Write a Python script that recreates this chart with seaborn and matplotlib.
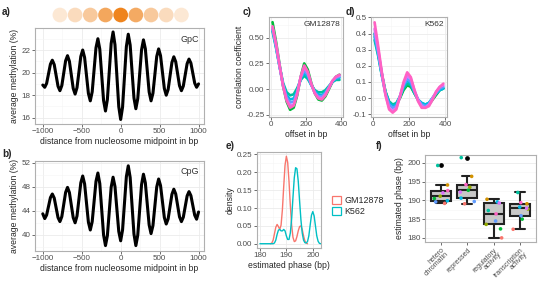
import numpy as np
import pandas as pd
import matplotlib
matplotlib.use("Agg")
import matplotlib.pyplot as plt
import seaborn as sns
from matplotlib.patches import Patch
from matplotlib.ticker import MultipleLocator, FormatStrFormatter
from matplotlib.colors import LinearSegmentedColormap

# ---------------- data ----------------
# a) GpC methylation profile around nucleosome midpoint (bp)
meth_positions = np.concatenate([[-1000], np.arange(-975, 975.1, 24.375), [1000]])
gpc_meth = [18.9,
    18.7, 19.05, 19.9, 20.75, 21.1, 20.71, 19.75, 18.79, 18.4, 18.85, 19.95, 21.05,
    21.5, 21.0, 19.8, 18.6, 18.1, 18.67, 20.05, 21.43, 22.0, 21.34, 19.75, 18.16,
    17.5, 18.3, 20.25, 22.2, 23.0, 22.07, 19.8, 17.53, 16.6, 17.62, 20.1, 22.58,
    23.6, 22.47, 19.73, 16.98, 15.85, 16.95, 19.63, 22.3, 23.4, 22.44, 20.1, 17.76,
    16.8, 17.69, 19.85, 22.01, 22.9, 22.11, 20.2, 18.29, 17.5, 18.17, 19.8, 21.43,
    22.1, 21.5, 20.05, 18.6, 18.0, 18.5, 19.7, 20.9, 21.4, 20.96, 19.9, 18.84,
    18.4, 18.81, 19.8, 20.79, 21.2, 20.84, 19.95, 19.07, 18.7,
    19.0]
# b) CpG methylation profile
cpg_meth = [43.5,
    42.7, 43.3, 44.75, 46.2, 46.8, 46.13, 44.5, 42.87, 42.2, 43.03, 45.05, 47.07,
    47.9, 47.04, 44.95, 42.86, 42.0, 43.14, 45.9, 48.66, 49.8, 48.49, 45.3, 42.11,
    40.8, 42.19, 45.55, 48.91, 50.3, 48.53, 44.25, 39.97, 38.2, 39.86, 43.9, 47.94,
    49.6, 48.05, 44.3, 40.55, 39.0, 40.82, 45.25, 49.68, 51.5, 49.56, 44.85, 40.14,
    38.2, 39.94, 44.15, 48.36, 50.1, 48.65, 45.15, 41.65, 40.2, 41.53, 44.75, 47.97,
    49.3, 48.21, 45.55, 42.89, 41.8, 42.65, 44.7, 46.75, 47.6, 46.81, 44.9, 42.99,
    42.2, 42.93, 44.7, 46.47, 47.2, 46.53, 44.9, 43.27, 42.6,
    43.8]
# nucleosome positions and relative occupancy (circles above panel a)
nuc_positions = [-780, -585, -390, -195, 0, 195, 390, 585, 780]
nuc_occupancy = [0.18, 0.28, 0.42, 0.68, 0.95, 0.66, 0.42, 0.28, 0.18]

# c/d) autocorrelation vs offset
offsets = [10, 30, 50, 70, 90, 110, 130, 150, 170, 190, 210, 230, 250, 270, 290, 310, 330, 350, 370, 390]
sample_names = ["s4", "s5", "s6", "s7", "s8", "s9"]
sample_colors = ["#00BA38", "#00C19F", "#00B9E3", "#619CFF", "#DB72FB", "#FF61C3"]
gm_s4 = [0.65, 0.46, 0.24, 0.03, -0.12, -0.20, -0.18, -0.06, 0.12, 0.25, 0.19, 0.06, -0.04, -0.10, -0.11, -0.07, 0.00, 0.07, 0.12, 0.14]
gm_s5 = [0.56, 0.40, 0.22, 0.06, -0.03, -0.06, -0.05, 0.01, 0.09, 0.13, 0.10, 0.04, -0.01, -0.03, -0.03, -0.01, 0.03, 0.07, 0.09, 0.09]
gm_s6 = [0.58, 0.41, 0.22, 0.04, -0.06, -0.10, -0.09, -0.02, 0.10, 0.16, 0.12, 0.04, -0.02, -0.05, -0.06, -0.03, 0.02, 0.07, 0.10, 0.11]
gm_s7 = [0.59, 0.42, 0.22, 0.04, -0.08, -0.13, -0.12, -0.03, 0.11, 0.18, 0.14, 0.04, -0.03, -0.07, -0.07, -0.04, 0.02, 0.08, 0.11, 0.12]
gm_s8 = [0.60, 0.43, 0.23, 0.03, -0.10, -0.16, -0.15, -0.04, 0.12, 0.21, 0.16, 0.05, -0.04, -0.08, -0.09, -0.05, 0.01, 0.08, 0.12, 0.13]
gm_s9 = [0.61, 0.44, 0.23, 0.03, -0.11, -0.18, -0.16, -0.05, 0.12, 0.23, 0.17, 0.05, -0.04, -0.09, -0.10, -0.06, 0.01, 0.08, 0.12, 0.14]
k5_s4 = [0.40, 0.28, 0.15, 0.04, -0.03, -0.05, -0.04, 0.00, 0.05, 0.08, 0.07, 0.03, -0.01, -0.04, -0.05, -0.04, -0.01, 0.02, 0.05, 0.06]
k5_s5 = [0.36, 0.26, 0.14, 0.04, -0.02, -0.04, -0.03, 0.01, 0.06, 0.09, 0.08, 0.03, -0.01, -0.03, -0.04, -0.03, 0.00, 0.03, 0.05, 0.06]
k5_s6 = [0.38, 0.27, 0.14, 0.03, -0.03, -0.05, -0.04, 0.01, 0.07, 0.11, 0.09, 0.04, -0.01, -0.03, -0.04, -0.03, 0.00, 0.03, 0.05, 0.06]
k5_s7 = [0.40, 0.28, 0.15, 0.03, -0.04, -0.06, -0.05, 0.01, 0.08, 0.12, 0.10, 0.04, -0.01, -0.04, -0.05, -0.04, 0.00, 0.03, 0.06, 0.07]
k5_s8 = [0.43, 0.30, 0.15, 0.02, -0.06, -0.08, -0.06, 0.01, 0.09, 0.14, 0.12, 0.05, -0.01, -0.05, -0.06, -0.04, 0.00, 0.04, 0.07, 0.08]
k5_s9 = [0.47, 0.32, 0.16, 0.02, -0.07, -0.09, -0.07, 0.01, 0.10, 0.16, 0.13, 0.05, -0.02, -0.06, -0.06, -0.05, -0.01, 0.04, 0.07, 0.09]

# e) density of estimated phase
phase_gm = np.arange(184.0, 198.01, 0.5)
dens_gm = [0.000, 0.002, 0.010, 0.028, 0.046, 0.054, 0.048, 0.040, 0.052, 0.095,
           0.160, 0.220, 0.245, 0.228, 0.175, 0.108, 0.052, 0.018, 0.006, 0.008,
           0.020, 0.036, 0.048, 0.050, 0.040, 0.022, 0.008, 0.002, 0.000]
phase_k5 = np.arange(180.0, 203.01, 0.5)
dens_k5 = [0.000, 0.000, 0.000, 0.000, 0.000, 0.000, 0.000, 0.000, 0.000, 0.000, 0.000,
           0.002, 0.010, 0.026, 0.038, 0.040, 0.036, 0.036, 0.040, 0.036, 0.022, 0.012,
           0.012, 0.030, 0.070, 0.130, 0.185, 0.213, 0.210, 0.175, 0.120, 0.068, 0.030,
           0.010, 0.003, 0.002, 0.006, 0.022, 0.052, 0.080, 0.090, 0.078, 0.050, 0.022,
           0.007, 0.001, 0.000]
cell_lines = ["GM12878", "K562"]
cell_colors = ["#F8766D", "#00BFC4"]

# f) estimated phase per chromatin state and sample
states = ["hetero\nchromatin", "repressed", "regulatory\nactivity", "transcription\nactivity"]
f_samples = ["s1", "s2", "s3", "s4", "s5", "s6", "s7", "s8", "s9"]
f_colors = ["#F8766D", "#D39200", "#93AA00", "#00BA38", "#00C19F", "#00B9E3", "#619CFF", "#DB72FB", "#FF61C3"]
phase_hetero = [189.2, 194.1, 191.1, 190.5, 199.3, 189.9, 189.6, 192.0, 192.6]
phase_repressed = [189.1, 196.4, 193.5, 192.7, 201.4, 190.6, 189.7, 192.2, 194.2]
phase_regulatory = [180.0, 190.3, 183.6, 182.4, 187.3, 189.6, 184.5, 189.3, 186.4]
phase_transcription = [182.3, 189.1, 187.7, 185.0, 192.1, 188.2, 185.9, 187.9, 189.4]

# ---------------- style ----------------
sns.set_style("white")
plt.rcParams["font.family"] = ["Liberation Sans", "DejaVu Sans"]
plt.rcParams["axes.unicode_minus"] = True

W, H = 538, 284
fig = plt.figure(figsize=(W / 100, H / 100), dpi=100)

def frac(l, t, r, b):
    return [l / W, 1 - b / H, (r - l) / W, (b - t) / H]

TICK = 5.8
LAB = 6.2

def style(ax):
    ax.set_facecolor("white")
    for s in ax.spines.values():
        s.set_visible(True)
        s.set_color("#B0B0B0")
        s.set_linewidth(0.8)
    ax.grid(which="major", color="#EBEBEB", lw=0.6)
    ax.grid(which="minor", color="#F5F5F5", lw=0.4)
    ax.set_axisbelow(True)
    ax.tick_params(which="major", length=2, width=0.5, color="#333333",
                   labelsize=TICK, labelcolor="#4D4D4D", pad=1.2,
                   bottom=True, left=True)
    ax.tick_params(which="minor", length=0)

def letter(x, y, s):
    fig.text(x / W, 1 - y / H, s, fontsize=7.2, fontweight="bold", ha="left", va="center")

# ---------- circles ----------
axn = fig.add_axes(frac(35, 5, 204, 25))
cmap = LinearSegmentedColormap.from_list("nuc", ["#FFFFFF", "#EE7E12"])
sns.scatterplot(x=nuc_positions, y=[0] * len(nuc_positions), hue=nuc_occupancy,
                palette=cmap, hue_norm=(0, 1), s=112, edgecolor="none", legend=False, ax=axn)
axn.set_xlim(-1100, 1070)
axn.set_ylim(-1, 1)
axn.axis("off")

# ---------- a ----------
axa = fig.add_axes(frac(35, 28, 204, 124))
style(axa)
sns.lineplot(x=meth_positions, y=gpc_meth, color="black", linewidth=2.2, ax=axa)
axa.set_xlim(-1100, 1070)
axa.set_ylim(15.45, 23.95)
axa.xaxis.set_major_locator(MultipleLocator(500))
axa.xaxis.set_minor_locator(MultipleLocator(250))
axa.yaxis.set_major_locator(MultipleLocator(2))
axa.yaxis.set_minor_locator(MultipleLocator(1))
axa.set_xlabel("distance from nucleosome midpoint in bp", fontsize=LAB, labelpad=1)
axa.set_ylabel("average methylation (%)", fontsize=LAB, labelpad=2)
axa.text(0.97, 0.93, "GpC", transform=axa.transAxes, ha="right", va="top", fontsize=6.5, color="#333333")

# ---------- b ----------
axb = fig.add_axes(frac(35, 161, 204, 251))
style(axb)
sns.lineplot(x=meth_positions, y=cpg_meth, color="black", linewidth=2.2, ax=axb)
axb.set_xlim(-1100, 1070)
axb.set_ylim(37.3, 52.3)
axb.xaxis.set_major_locator(MultipleLocator(500))
axb.xaxis.set_minor_locator(MultipleLocator(250))
axb.yaxis.set_major_locator(MultipleLocator(4))
axb.yaxis.set_minor_locator(MultipleLocator(2))
axb.set_xlabel("distance from nucleosome midpoint in bp", fontsize=LAB, labelpad=1)
axb.set_ylabel("average methylation (%)", fontsize=LAB, labelpad=2)
axb.text(0.97, 0.93, "CpG", transform=axb.transAxes, ha="right", va="top", fontsize=6.5, color="#333333")

# ---------- c / d ----------
def corr_df(curves):
    rows = []
    for name, vals in zip(sample_names, curves):
        for o, v in zip(offsets, vals):
            rows.append((name, o, v))
    return pd.DataFrame(rows, columns=["sample", "offset", "corr"])

df_c = corr_df([gm_s4, gm_s5, gm_s6, gm_s7, gm_s8, gm_s9])
df_d = corr_df([k5_s4, k5_s5, k5_s6, k5_s7, k5_s8, k5_s9])

axc = fig.add_axes(frac(269, 17, 343, 117))
style(axc)
sns.lineplot(data=df_c, x="offset", y="corr", hue="sample", palette=sample_colors,
             linewidth=1.9, legend=False, ax=axc)
axc.set_xlim(-10, 410)
axc.set_ylim(-0.27, 0.70)
axc.xaxis.set_major_locator(MultipleLocator(200))
axc.xaxis.set_minor_locator(MultipleLocator(100))
axc.yaxis.set_major_locator(MultipleLocator(0.25))
axc.yaxis.set_minor_locator(MultipleLocator(0.125))
axc.yaxis.set_major_formatter(FormatStrFormatter("%.2f"))
axc.set_xlabel("offset in bp", fontsize=LAB, labelpad=1)
axc.set_ylabel("correlation coefficient", fontsize=LAB, labelpad=2)
axc.text(0.96, 0.96, "GM12878", transform=axc.transAxes, ha="right", va="top", fontsize=6.0, color="#333333")

axd = fig.add_axes(frac(371, 17, 447, 117))
style(axd)
sns.lineplot(data=df_d, x="offset", y="corr", hue="sample", palette=sample_colors,
             linewidth=1.9, legend=False, ax=axd)
axd.set_xlim(-10, 410)
axd.set_ylim(-0.117, 0.503)
axd.xaxis.set_major_locator(MultipleLocator(200))
axd.xaxis.set_minor_locator(MultipleLocator(100))
axd.yaxis.set_major_locator(MultipleLocator(0.1))
axd.yaxis.set_minor_locator(MultipleLocator(0.05))
axd.yaxis.set_major_formatter(FormatStrFormatter("%.1f"))
axd.set_xlabel("offset in bp", fontsize=LAB, labelpad=1)
axd.set_ylabel("")
axd.text(0.96, 0.96, "K562", transform=axd.transAxes, ha="right", va="top", fontsize=6.0, color="#333333")

# ---------- e ----------
df_e = pd.concat([
    pd.DataFrame({"phase": phase_gm, "density": dens_gm, "cell": cell_lines[0]}),
    pd.DataFrame({"phase": phase_k5, "density": dens_k5, "cell": cell_lines[1]}),
])
axe = fig.add_axes(frac(257, 152, 321, 248))
style(axe)
sns.lineplot(data=df_e, x="phase", y="density", hue="cell", palette=cell_colors,
             linewidth=1.0, legend=False, ax=axe)
axe.set_xlim(178.9, 203.1)
axe.set_ylim(-0.012, 0.257)
axe.xaxis.set_major_locator(MultipleLocator(10))
axe.xaxis.set_minor_locator(MultipleLocator(5))
axe.yaxis.set_major_locator(MultipleLocator(0.05))
axe.yaxis.set_minor_locator(MultipleLocator(0.025))
axe.yaxis.set_major_formatter(FormatStrFormatter("%.2f"))
axe.set_xlabel("estimated phase (bp)", fontsize=LAB, labelpad=1)
axe.set_ylabel("density", fontsize=LAB, labelpad=2)
handles = [Patch(facecolor="white", edgecolor=c, linewidth=0.9) for c in cell_colors]
axe.legend(handles, cell_lines, loc="center left", bbox_to_anchor=(1.12, 0.44),
           frameon=False, fontsize=6.4, handlelength=1.0, handleheight=1.0,
           handletextpad=0.4, labelspacing=0.25, borderaxespad=0)

# ---------- f ----------
df_f = pd.DataFrame({
    "state": np.repeat(states, len(f_samples)),
    "sample": f_samples * len(states),
    "phase": phase_hetero + phase_repressed + phase_regulatory + phase_transcription,
})
axf = fig.add_axes(frac(425, 155, 536, 242))
style(axf)
sns.boxplot(data=df_f, x="state", y="phase", order=states, color="#C8C8C8", saturation=1,
            linecolor="#222222", linewidth=1.5, width=0.75, fliersize=2.4,
            flierprops=dict(marker="o", markerfacecolor="black", markeredgecolor="black"),
            ax=axf)
sns.stripplot(data=df_f, x="state", y="phase", order=states, hue="sample",
              palette=f_colors, jitter=0.3, size=2.6, linewidth=0, legend=False,
              ax=axf, zorder=3)
axf.set_xlim(-0.6, 3.6)
axf.set_ylim(178.9, 202.1)
axf.yaxis.set_major_locator(MultipleLocator(5))
axf.yaxis.set_minor_locator(MultipleLocator(2.5))
axf.set_xlabel("")
axf.set_ylabel("estimated phase (bp)", fontsize=LAB, labelpad=2)
axf.tick_params(axis="x", which="major", labelsize=5.0, pad=1.2)
for lab in axf.get_xticklabels():
    lab.set_rotation(45)
    lab.set_ha("right")
    lab.set_va("top")
    lab.set_rotation_mode("anchor")
    lab.set_linespacing(0.85)

# panel letters
letter(2, 12, "a)")
letter(2, 154, "b)")
letter(243, 12, "c)")
letter(346, 12, "d)")
letter(226, 146, "e)")
letter(376, 146, "f)")

fig.savefig("out.png", dpi=100)
